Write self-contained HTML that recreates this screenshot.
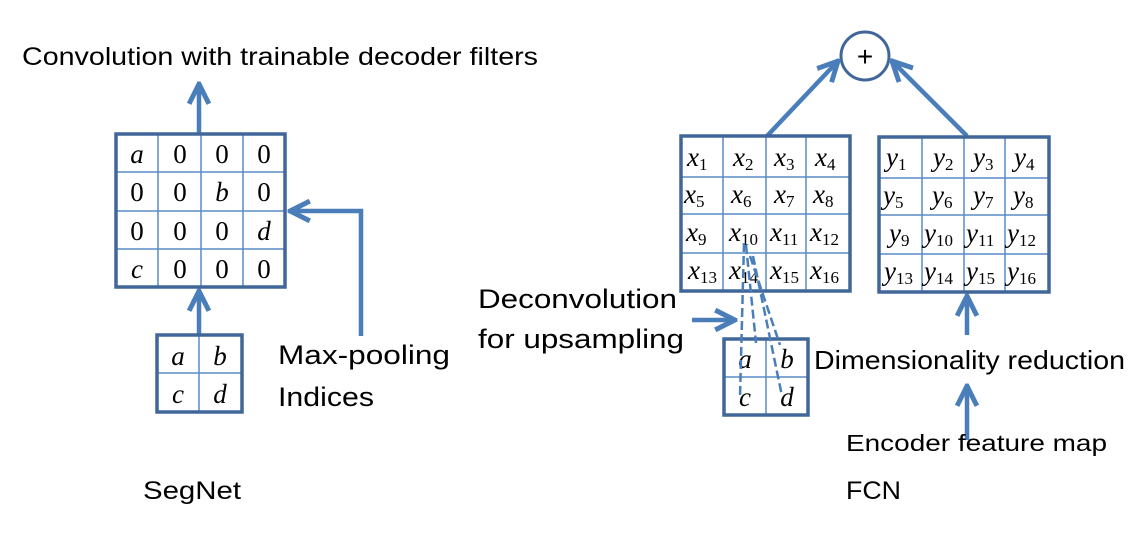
<!DOCTYPE html>
<html><head><meta charset="utf-8"><style>
html,body{margin:0;padding:0;background:#fff;}
svg{display:block}
.t{font-family:"Liberation Sans",sans-serif;fill:#000}
.m{font-family:"Liberation Serif",serif;font-style:italic;fill:#000;font-size:27px}
.n{font-family:"Liberation Serif",serif;fill:#000;font-size:27px}
.b{fill:none;stroke:#41679a;stroke-width:3.5}
.g{stroke:#5b8bc9;stroke-width:1.5}
.a{stroke:#4a7ebb;stroke-width:4.5;fill:none}
.d{stroke:#4a7ebb;stroke-width:2.5;stroke-dasharray:9,4;fill:none}
</style></head><body>
<svg width="1148" height="533" viewBox="0 0 1148 533">
<defs><marker id="ah" viewBox="0 0 10 10" refX="9" refY="5" markerWidth="5.5" markerHeight="5.5" orient="auto"><path d="M1,1 L9,5 L1,9" fill="none" stroke="#4a7ebb" stroke-width="2"/></marker></defs>

<text class="t" x="22" y="65" font-size="25" textLength="516" lengthAdjust="spacingAndGlyphs">Convolution with trainable decoder filters</text>
<line class="a" x1="199" y1="133" x2="199" y2="84" marker-end="url(#ah)"/>

<g class="g"><line x1="158" y1="134" x2="158" y2="287"/><line x1="201" y1="134" x2="201" y2="287"/><line x1="243" y1="134" x2="243" y2="287"/>
<line x1="116" y1="172" x2="285" y2="172"/><line x1="116" y1="211" x2="285" y2="211"/><line x1="116" y1="249" x2="285" y2="249"/></g>
<rect class="b" x="116" y="134" width="169" height="153"/>
<g text-anchor="middle">
<text class="m" x="137" y="163">a</text><text class="n" x="180" y="163">0</text><text class="n" x="222" y="163">0</text><text class="n" x="264" y="163">0</text>
<text class="n" x="137" y="201">0</text><text class="n" x="180" y="201">0</text><text class="m" x="222" y="201">b</text><text class="n" x="264" y="201">0</text>
<text class="n" x="137" y="240">0</text><text class="n" x="180" y="240">0</text><text class="n" x="222" y="240">0</text><text class="m" x="264" y="240">d</text>
<text class="m" x="137" y="278">c</text><text class="n" x="180" y="278">0</text><text class="n" x="222" y="278">0</text><text class="n" x="264" y="278">0</text>
</g>
<line class="a" x1="199" y1="334" x2="199" y2="291" marker-end="url(#ah)"/>
<g class="g"><line x1="199" y1="335" x2="199" y2="412"/><line x1="157" y1="373" x2="242" y2="373"/></g>
<rect class="b" x="157" y="335" width="85" height="77"/>
<g text-anchor="middle"><text class="m" x="178" y="365">a</text><text class="m" x="220" y="365">b</text><text class="m" x="178" y="403">c</text><text class="m" x="220" y="403">d</text></g>
<polyline class="a" points="361,336 361,211 290,211" marker-end="url(#ah)"/>
<text class="t" x="278" y="364" font-size="27" textLength="172" lengthAdjust="spacingAndGlyphs">Max-pooling</text>
<text class="t" x="278" y="406" font-size="27" textLength="96" lengthAdjust="spacingAndGlyphs">Indices</text>
<text class="t" x="143" y="499" font-size="25" textLength="98" lengthAdjust="spacingAndGlyphs">SegNet</text>

<circle cx="865" cy="56" r="24" fill="#fff" stroke="#41679a" stroke-width="3"/>
<text class="t" x="865" y="66" font-size="28" text-anchor="middle">+</text>
<line class="a" x1="767" y1="136" x2="838" y2="61" marker-end="url(#ah)"/>
<line class="a" x1="967" y1="136" x2="892" y2="61" marker-end="url(#ah)"/>

<g class="g"><line x1="723" y1="136" x2="723" y2="291"/><line x1="766" y1="136" x2="766" y2="291"/><line x1="806" y1="136" x2="806" y2="291"/>
<line x1="681" y1="177" x2="850" y2="177"/><line x1="681" y1="214" x2="850" y2="214"/><line x1="681" y1="253" x2="850" y2="253"/></g>
<rect class="b" x="681" y="136" width="169" height="155"/>
<g class="m" font-size="24">
<text x="687" y="166">x<tspan font-size="17" dy="4" font-style="normal">1</tspan></text>
<text x="733" y="166">x<tspan font-size="17" dy="4" font-style="normal">2</tspan></text>
<text x="774" y="166">x<tspan font-size="17" dy="4" font-style="normal">3</tspan></text>
<text x="815" y="166">x<tspan font-size="17" dy="4" font-style="normal">4</tspan></text>
<text x="684" y="203">x<tspan font-size="17" dy="4" font-style="normal">5</tspan></text>
<text x="731" y="203">x<tspan font-size="17" dy="4" font-style="normal">6</tspan></text>
<text x="774" y="203">x<tspan font-size="17" dy="4" font-style="normal">7</tspan></text>
<text x="813" y="203">x<tspan font-size="17" dy="4" font-style="normal">8</tspan></text>
<text x="686" y="241">x<tspan font-size="17" dy="4" font-style="normal">9</tspan></text>
<text x="729" y="241">x<tspan font-size="17" dy="4" font-style="normal">10</tspan></text>
<text x="770" y="241">x<tspan font-size="17" dy="4" font-style="normal">11</tspan></text>
<text x="810" y="241">x<tspan font-size="17" dy="4" font-style="normal">12</tspan></text>
<text x="688" y="279">x<tspan font-size="17" dy="4" font-style="normal">13</tspan></text>
<text x="729" y="279">x<tspan font-size="17" dy="4" font-style="normal">14</tspan></text>
<text x="770" y="279">x<tspan font-size="17" dy="4" font-style="normal">15</tspan></text>
<text x="810" y="279">x<tspan font-size="17" dy="4" font-style="normal">16</tspan></text>
</g>

<g class="g"><line x1="922" y1="137" x2="922" y2="292"/><line x1="964" y1="137" x2="964" y2="292"/><line x1="1005" y1="137" x2="1005" y2="292"/>
<line x1="879" y1="178" x2="1049" y2="178"/><line x1="879" y1="215" x2="1049" y2="215"/><line x1="879" y1="254" x2="1049" y2="254"/></g>
<rect class="b" x="879" y="137" width="170" height="155"/>
<g class="m" font-size="24">
<text x="886" y="166">y<tspan font-size="17" dy="4" font-style="normal">1</tspan></text>
<text x="933" y="166">y<tspan font-size="17" dy="4" font-style="normal">2</tspan></text>
<text x="973" y="166">y<tspan font-size="17" dy="4" font-style="normal">3</tspan></text>
<text x="1014" y="166">y<tspan font-size="17" dy="4" font-style="normal">4</tspan></text>
<text x="883" y="204">y<tspan font-size="17" dy="4" font-style="normal">5</tspan></text>
<text x="932" y="204">y<tspan font-size="17" dy="4" font-style="normal">6</tspan></text>
<text x="973" y="204">y<tspan font-size="17" dy="4" font-style="normal">7</tspan></text>
<text x="1013" y="204">y<tspan font-size="17" dy="4" font-style="normal">8</tspan></text>
<text x="889" y="242">y<tspan font-size="17" dy="4" font-style="normal">9</tspan></text>
<text x="924" y="242">y<tspan font-size="17" dy="4" font-style="normal">10</tspan></text>
<text x="966" y="242">y<tspan font-size="17" dy="4" font-style="normal">11</tspan></text>
<text x="1007" y="242">y<tspan font-size="17" dy="4" font-style="normal">12</tspan></text>
<text x="884" y="280">y<tspan font-size="17" dy="4" font-style="normal">13</tspan></text>
<text x="924" y="280">y<tspan font-size="17" dy="4" font-style="normal">14</tspan></text>
<text x="966" y="280">y<tspan font-size="17" dy="4" font-style="normal">15</tspan></text>
<text x="1007" y="280">y<tspan font-size="17" dy="4" font-style="normal">16</tspan></text>
</g>

<g class="g"><line x1="766" y1="339" x2="766" y2="415"/><line x1="724" y1="377" x2="808" y2="377"/></g>
<rect class="b" x="724" y="339" width="84" height="76"/>
<g text-anchor="middle"><text class="m" x="745" y="368">a</text><text class="m" x="787" y="368">b</text><text class="m" x="745" y="406">c</text><text class="m" x="787" y="406">d</text></g>
<line class="d" x1="744" y1="243" x2="740" y2="397"/>
<line class="d" x1="746" y1="245" x2="756" y2="343"/>
<line class="d" x1="750" y1="256" x2="780" y2="345"/>
<line class="d" x1="753" y1="256" x2="782" y2="396"/>
<line class="a" x1="692" y1="320" x2="735" y2="320" marker-end="url(#ah)"/>
<text class="t" x="478" y="308" font-size="27" textLength="199" lengthAdjust="spacingAndGlyphs">Deconvolution</text>
<text class="t" x="478" y="348" font-size="27" textLength="206" lengthAdjust="spacingAndGlyphs">for upsampling</text>

<line class="a" x1="967" y1="335" x2="967" y2="296" marker-end="url(#ah)"/>
<line class="a" x1="967" y1="440" x2="967" y2="386" marker-end="url(#ah)"/>
<text class="t" x="814" y="369" font-size="26" textLength="311" lengthAdjust="spacingAndGlyphs">Dimensionality reduction</text>
<text class="t" x="846" y="451" font-size="23" textLength="261" lengthAdjust="spacingAndGlyphs">Encoder feature map</text>
<text class="t" x="846" y="499" font-size="25" textLength="55" lengthAdjust="spacingAndGlyphs">FCN</text>
</svg>
</body></html>
